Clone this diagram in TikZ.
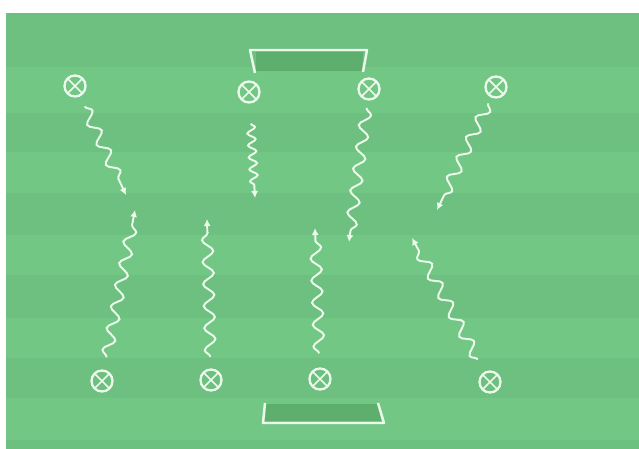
\documentclass[tikz,border=0pt]{standalone}
\usepackage{xcolor}
\usepackage{tikz}
\usetikzlibrary{arrows.meta, decorations.pathmorphing}
\definecolor{pitchdark}{RGB}{109, 192, 127}
\definecolor{pitchlight}{RGB}{115, 199, 133}
\definecolor{goalfill}{RGB}{94, 174, 110}
\definecolor{chalk}{RGB}{236, 250, 236}

\begin{document}
\begin{tikzpicture}[
    x=0.02cm, y=-0.02cm,
    player/.style={circle, draw=chalk, line width=1.3pt, minimum size=0.42cm, inner sep=0pt,
      path picture={\draw[chalk, line width=1pt] (path picture bounding box.north west) -- (path picture bounding box.south east)
        (path picture bounding box.north east) -- (path picture bounding box.south west);}},
    dribble/.style={chalk, line width=1.1pt, -{Latex[length=1.4mm, width=1.4mm]}, decorate,
      decoration={snake, amplitude=1.1mm, segment length=4.4mm, pre=moveto, pre length=#1, post length=2.2mm}},
    dribble/.default=2mm,
    tight/.style={decoration={amplitude=0.8mm, segment length=2.4mm}},
    goalline/.style={chalk, line width=1.4pt, line join=round}
  ]

  % page and pitch
  \useasboundingbox (0,0) rectangle (639,449);
  \fill[white] (0,0) rectangle (639,449);
  \fill[pitchlight] (6,13) rectangle (639,449);
  \foreach \ya/\yb in {13/67, 113/152, 193/235, 275/318, 358/398, 440/449} {
    \fill[pitchdark] (6,\ya) rectangle (639,\yb);
  }

  % goals
  \fill[goalfill] (256,52) -- (363,52) -- (362,71) -- (256,71) -- cycle;
  \draw[goalline] (255,73) -- (250,50) -- (367,50) -- (363,72);
  \fill[goalfill] (266,404) -- (379,404) -- (381,421) -- (265,421) -- cycle;
  \draw[goalline] (265,403) -- (263,423) -- (384,423) -- (378,403);

  % players
  \foreach \n/\x/\y in {1/75/86, 2/249/92, 3/369/89, 4/496/87, 5/102/381, 6/211/380, 7/320/379, 8/490/382} {
    \node[player] (p\n) at (\x,\y) {};
  }

  % dribble targets
  \coordinate (e1) at (126,195);
  \coordinate (e2) at (255,198);
  \coordinate (e3) at (349,242);
  \coordinate (e4) at (437,210);
  \coordinate (e5) at (135,210);
  \coordinate (e6) at (207,219);
  \coordinate (e7) at (315,228);
  \coordinate (e8) at (412,238);

  \foreach \a/\b/\pre in {p1/e1/2.2mm, p3/e3/1.5mm, p4/e4/1.3mm, p5/e5/2.5mm, p6/e6/2.3mm, p7/e7/2.8mm, p8/e8/2.8mm} {
    \draw[dribble=\pre] (\a) -- (\b);
  }
  \draw[dribble=4mm, tight] (p2) -- (e2);

\end{tikzpicture}
\end{document}
